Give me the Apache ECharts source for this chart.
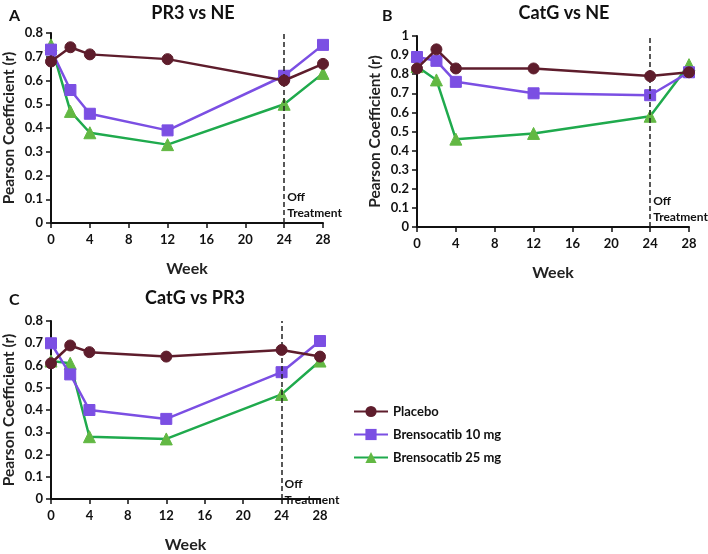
<!DOCTYPE html>
<html><head><meta charset="utf-8">
<script src="https://cdn.jsdelivr.net/npm/echarts@6/dist/echarts.min.js"></script>
<style>html,body{margin:0;padding:0;background:#fff}#c{width:708px;height:554px}</style>
</head><body><div id="c"></div>
<script>
const weeks = [0, 2, 4, 12, 24, 28];
const xTicks = [0, 4, 8, 12, 16, 20, 24, 28];
const seriesNames = ['Placebo', 'Brensocatib 10 mg', 'Brensocatib 25 mg'];
const panelTitles = ['PR3 vs NE', 'CatG vs NE', 'CatG vs PR3'];
const panelLetters = ['A', 'B', 'C'];
const yMax = [0.8, 1, 0.8];

const placeboA = [0.68, 0.74, 0.71, 0.69, 0.60, 0.67];
const bren10A  = [0.73, 0.56, 0.46, 0.39, 0.62, 0.75];
const bren25A  = [0.75, 0.47, 0.38, 0.33, 0.50, 0.63];

const placeboB = [0.83, 0.93, 0.83, 0.83, 0.79, 0.81];
const bren10B  = [0.89, 0.87, 0.76, 0.70, 0.69, 0.81];
const bren25B  = [0.84, 0.77, 0.46, 0.49, 0.58, 0.85];

const placeboC = [0.61, 0.69, 0.66, 0.64, 0.67, 0.64];
const bren10C  = [0.70, 0.56, 0.40, 0.36, 0.57, 0.71];
const bren25C  = [0.62, 0.61, 0.28, 0.27, 0.47, 0.62];

const offWeek = 24;

const panels = [[placeboA, bren10A, bren25A], [placeboB, bren10B, bren25B], [placeboC, bren10C, bren25C]];
const FONT = 'Lato, "Open Sans", sans-serif';
const colors = ['#5E1D2C', '#7B4FE3', '#1FAA4D'];
const fills = ['#5E1D2C', '#7B4FE3', '#62B843'];
const symbols = ['circle', 'rect', 'triangle'];

const grids = [
  {left: 51, top: 33, width: 272, height: 190},
  {left: 417, top: 36, width: 272, height: 191},
  {left: 47, top: 321, width: 273, height: 189}
];
const titlePos = [[188, 9], [559, 9], [190, 294]];
const letterPos = [[4, 12], [377, 12], [4, 296]];

const chart = echarts.init(document.getElementById('c'));
const xAxes = [], yAxes = [], series = [], titles = [];
grids.forEach((g, i) => {
  xAxes.push({
    gridIndex: i, type: 'value', min: 0, max: 28, interval: 4,
    name: 'Week', nameLocation: 'middle', nameGap: 38,
    nameTextStyle: {fontFamily: FONT, fontWeight: 'bold', fontSize: 16, color: '#222'},
    axisLine: {lineStyle: {color: '#111', width: 2}},
    axisTick: {show: true, length: 5, lineStyle: {color: '#111', width: 1.5}},
    axisLabel: {fontFamily: FONT, fontWeight: 'bold', fontSize: 13, color: '#111', margin: 10},
    splitLine: {show: false}
  });
  yAxes.push({
    gridIndex: i, type: 'value', min: 0, max: yMax[i], interval: 0.1,
    name: 'Pearson Coefficient (r)', nameLocation: 'middle', nameGap: 34,
    nameTextStyle: {fontFamily: FONT, fontWeight: 'bold', fontSize: 15.5, color: '#222'},
    axisLine: {show: true, lineStyle: {color: '#111', width: 2}},
    axisTick: {show: true, length: 5, lineStyle: {color: '#111', width: 1.5}},
    axisLabel: {fontFamily: FONT, fontWeight: 'bold', fontSize: 13, color: '#111', margin: 8,
      formatter: v => String(Math.round(v * 10) / 10)},
    splitLine: {show: false}
  });
  panels[i].forEach((vals, k) => {
    const s = {
      name: seriesNames[k], type: 'line', xAxisIndex: i, yAxisIndex: i,
      data: weeks.map((w, j) => [w, vals[j]]),
      symbol: symbols[k], symbolSize: k === 2 ? 12 : 11,
      lineStyle: {color: colors[k], width: 2.5},
      itemStyle: {color: fills[k], borderColor: fills[k]},
      z: 3 + (2 - k)
    };
    if (k === 0) {
      s.markLine = {
        silent: true, symbol: 'none',
        lineStyle: {color: '#222', type: [5, 3], width: 1.5},
        label: {show: false},
        data: [{xAxis: offWeek}]
      };
    }
    series.push(s);
  });
  titles.push({
    text: panelTitles[i], left: titlePos[i][0], top: titlePos[i][1] - 10, textAlign: 'center',
    textStyle: {fontFamily: FONT, fontWeight: 'bold', fontSize: 18, color: '#111'}
  });
  titles.push({
    text: panelLetters[i], left: letterPos[i][0], top: letterPos[i][1] - 9,
    textStyle: {fontFamily: FONT, fontWeight: 'bold', fontSize: 16, color: '#111'}
  });
});

chart.setOption({
  animation: false,
  title: titles,
  grid: grids,
  xAxis: xAxes,
  yAxis: yAxes,
  legend: {
    left: 348, top: 400, orient: 'vertical', itemGap: 10, itemWidth: 34, itemHeight: 14,
    data: seriesNames,
    textStyle: {fontFamily: FONT, fontWeight: 'bold', fontSize: 13, color: '#111'}
  },
  series: series
});

const graphics = [];
grids.forEach((g, i) => {
  const p1 = chart.convertToPixel({gridIndex: i}, [offWeek, 0]);
  graphics.push({
    type: 'text', left: p1[0] + 3, top: g.top + g.height - 34,
    style: {text: 'Off\nTreatment', fontFamily: FONT, fontWeight: 'bold', fontSize: 12, lineHeight: 16, fill: '#111'}
  });
});
chart.setOption({graphic: graphics});
</script></body></html>
